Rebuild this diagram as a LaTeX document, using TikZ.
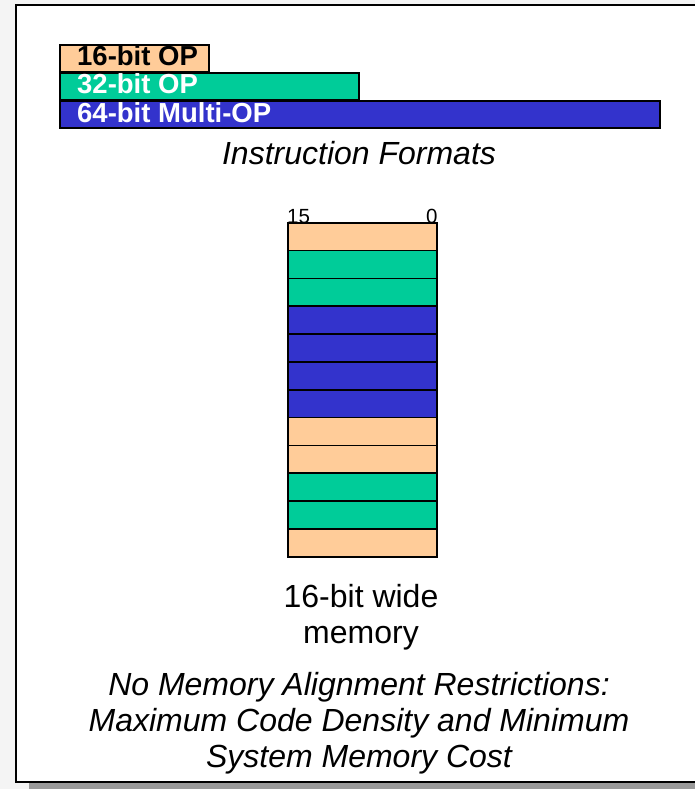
\documentclass[tikz,border=0pt]{standalone}
\usepackage{fontspec}
\setmainfont{Liberation Sans}
\definecolor{peach}{HTML}{FFCC99}
\definecolor{teal}{HTML}{00CC99}
\definecolor{royal}{HTML}{3333CC}
\definecolor{pagebg}{HTML}{F4F4F4}
\definecolor{shadowgray}{HTML}{9A9A9A}
\begin{document}
\begin{tikzpicture}[x=1pt,y=-1pt,
  bar/.style={draw=black, line width=1.6pt, rectangle, inner sep=0pt, minimum height=27pt},
  barlabel/.style={anchor=base west, inner sep=0pt, font=\fontsize{27.5}{27.5}\selectfont\bfseries},
  cell/.style={draw=black, line width=1.6pt, rectangle, inner sep=0pt, minimum width=149pt, minimum height=27.8pt},
  caption/.style={anchor=base, inner sep=0pt, font=\fontsize{32}{32}\selectfont},
  note/.style={anchor=base, inner sep=0pt, font=\fontsize{32}{32}\selectfont\itshape},
  bitlabel/.style={inner sep=0pt, font=\fontsize{20.5}{20.5}\selectfont}]
  \useasboundingbox (0,0) rectangle (695,789);
  % page background, drop shadow and frame
  \fill[pagebg] (0,0) rectangle (695,789);
  \fill[shadowgray] (29,783) rectangle (695,789);
  \draw[fill=white, line width=2pt] (16,5) rectangle (700,782);

  % instruction format bars
  \node[bar, fill=peach, minimum width=149pt, anchor=north west] (op16) at (59,44) {};
  \node[bar, fill=teal, minimum width=299pt, anchor=north west] (op32) at (59,72) {};
  \node[bar, fill=royal, minimum width=600pt, anchor=north west] (op64) at (59,100) {};
  \node[barlabel, text=black] (l16) at (77,66) {16-bit OP};
  \node[barlabel, text=white] (l32) at (77,94) {32-bit OP};
  \node[barlabel, text=white] (l64) at (77,122) {64-bit Multi-OP};
  \node[note] (fmt) at (359,164) {Instruction Formats};

  % 16-bit wide memory column
  \foreach \c [count=\i from 0] in {peach,teal,teal,royal,royal,royal,royal,peach,peach,teal,teal,peach}
    \node[cell, fill=\c, anchor=north west] (m\i) at (287,222+27.83*\i) {};
  \node[bitlabel, anchor=base west] (b15) at (m0.north west) [yshift=-1pt] {15};
  \node[bitlabel, anchor=base east] (b0) at (m0.north east) [yshift=-1pt] {0};

  \node[caption] (w1) at (361,607) {16-bit wide};
  \node[caption] (w2) at (361,643) {memory};

  % closing statement
  \node[note] (s1) at (359,695) {No Memory Alignment Restrictions:};
  \node[note] (s2) at (359,731) {Maximum Code Density and Minimum};
  \node[note] (s3) at (359,767) {System Memory Cost};
\end{tikzpicture}
\end{document}
